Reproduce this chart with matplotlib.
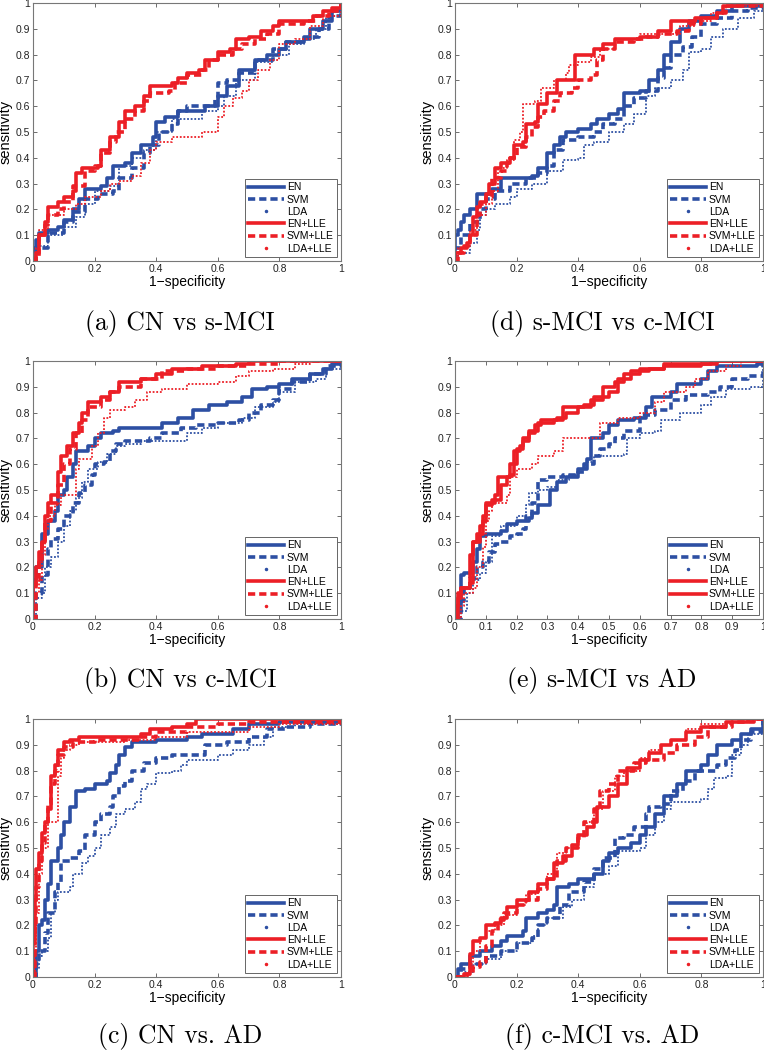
import matplotlib
matplotlib.use("Agg")
import matplotlib.pyplot as plt
from matplotlib.lines import Line2D
from matplotlib.ticker import FormatStrFormatter

BLUE = "#2d4fa3"
RED = "#ec1f26"

LABELS = ["EN", "SVM", "LDA", "EN+LLE", "SVM+LLE", "LDA+LLE"]

# ── (a) CN vs s-MCI ─────────────────────────────────────────────────────────
A_EN = [(0, 0), (0, 0.05), (0.01, 0.08), (0.02, 0.11), (0.05, 0.12), (0.08, 0.13), (0.1, 0.16),
        (0.13, 0.2), (0.15, 0.24), (0.17, 0.28), (0.22, 0.29), (0.24, 0.32), (0.26, 0.37),
        (0.3, 0.38), (0.32, 0.42), (0.35, 0.45), (0.39, 0.48), (0.4, 0.54), (0.43, 0.56),
        (0.47, 0.58), (0.55, 0.58), (0.56, 0.6), (0.6, 0.64), (0.63, 0.68), (0.67, 0.74),
        (0.72, 0.78), (0.76, 0.8), (0.8, 0.82), (0.82, 0.85), (0.88, 0.86), (0.9, 0.9),
        (0.94, 0.93), (0.97, 0.97), (1, 1)]
A_SVM = [(0, 0), (0.01, 0.05), (0.05, 0.11), (0.1, 0.15), (0.13, 0.19), (0.17, 0.24), (0.21, 0.26),
         (0.26, 0.27), (0.28, 0.32), (0.32, 0.36), (0.36, 0.42), (0.38, 0.45), (0.41, 0.5),
         (0.45, 0.53), (0.47, 0.58), (0.5, 0.6), (0.55, 0.6), (0.59, 0.63), (0.6, 0.69),
         (0.63, 0.7), (0.67, 0.73), (0.72, 0.78), (0.78, 0.82), (0.82, 0.85), (0.88, 0.87),
         (0.93, 0.9), (0.96, 0.95), (1, 1)]
A_LDA = [(0, 0), (0.01, 0.06), (0.05, 0.1), (0.1, 0.13), (0.14, 0.17), (0.17, 0.22), (0.2, 0.27),
         (0.25, 0.29), (0.28, 0.37), (0.32, 0.4), (0.36, 0.43), (0.4, 0.5), (0.45, 0.55),
         (0.55, 0.58), (0.6, 0.6), (0.62, 0.64), (0.66, 0.7), (0.72, 0.77), (0.78, 0.8),
         (0.83, 0.84), (0.88, 0.86), (0.92, 0.9), (0.95, 0.95), (1, 1)]
A_EN_LLE = [(0, 0), (0.01, 0.03), (0.02, 0.1), (0.04, 0.15), (0.05, 0.21), (0.08, 0.23), (0.1, 0.25),
            (0.13, 0.27), (0.14, 0.34), (0.16, 0.36), (0.21, 0.37), (0.22, 0.43), (0.25, 0.48),
            (0.28, 0.54), (0.3, 0.58), (0.33, 0.6), (0.36, 0.64), (0.38, 0.68), (0.45, 0.69),
            (0.47, 0.71), (0.5, 0.73), (0.54, 0.74), (0.56, 0.78), (0.6, 0.81), (0.64, 0.82),
            (0.66, 0.86), (0.7, 0.87), (0.74, 0.89), (0.78, 0.91), (0.8, 0.93), (0.88, 0.93),
            (0.91, 0.95), (0.94, 0.97), (0.97, 0.98), (1, 1)]
A_SVM_LLE = [(0, 0), (0.01, 0.02), (0.02, 0.1), (0.04, 0.14), (0.05, 0.18), (0.08, 0.2), (0.1, 0.23),
             (0.13, 0.29), (0.17, 0.35), (0.2, 0.37), (0.22, 0.42), (0.25, 0.46), (0.27, 0.5),
             (0.3, 0.55), (0.33, 0.58), (0.36, 0.62), (0.38, 0.65), (0.44, 0.66), (0.46, 0.69),
             (0.5, 0.72), (0.55, 0.74), (0.57, 0.78), (0.6, 0.8), (0.65, 0.82), (0.68, 0.84),
             (0.72, 0.86), (0.76, 0.88), (0.8, 0.92), (0.88, 0.93), (0.92, 0.95), (0.96, 0.97), (1, 1)]
A_LDA_LLE = [(0, 0), (0.01, 0.05), (0.02, 0.12), (0.05, 0.18), (0.1, 0.2), (0.14, 0.22), (0.17, 0.25),
             (0.22, 0.27), (0.25, 0.3), (0.28, 0.31), (0.32, 0.33), (0.35, 0.38), (0.38, 0.43),
             (0.4, 0.46), (0.45, 0.48), (0.53, 0.48), (0.55, 0.5), (0.6, 0.52), (0.6, 0.56),
             (0.62, 0.6), (0.65, 0.63), (0.68, 0.66), (0.7, 0.7), (0.73, 0.74), (0.77, 0.78),
             (0.8, 0.84), (0.85, 0.86), (0.9, 0.91), (0.94, 0.95), (1, 1)]

# ── (d) s-MCI vs c-MCI ──────────────────────────────────────────────────────
D_EN = [(0, 0), (0, 0.1), (0.01, 0.12), (0.02, 0.15), (0.03, 0.18), (0.05, 0.2), (0.07, 0.26),
        (0.1, 0.26), (0.12, 0.28), (0.15, 0.32), (0.25, 0.33), (0.27, 0.36), (0.3, 0.42),
        (0.32, 0.45), (0.34, 0.48), (0.36, 0.5), (0.4, 0.51), (0.44, 0.53), (0.46, 0.55),
        (0.5, 0.57), (0.53, 0.59), (0.55, 0.65), (0.6, 0.66), (0.63, 0.7), (0.66, 0.74),
        (0.68, 0.8), (0.7, 0.85), (0.73, 0.9), (0.76, 0.93), (0.8, 0.95), (0.85, 0.97),
        (0.9, 0.99), (1, 1)]
D_SVM = [(0, 0), (0, 0.05), (0.02, 0.1), (0.05, 0.15), (0.08, 0.2), (0.1, 0.24), (0.13, 0.27),
         (0.18, 0.3), (0.23, 0.32), (0.27, 0.34), (0.3, 0.37), (0.32, 0.43), (0.35, 0.47),
         (0.4, 0.48), (0.45, 0.5), (0.48, 0.53), (0.52, 0.55), (0.55, 0.6), (0.58, 0.63),
         (0.62, 0.66), (0.66, 0.71), (0.68, 0.75), (0.7, 0.8), (0.74, 0.83), (0.77, 0.87),
         (0.8, 0.92), (0.85, 0.94), (0.9, 0.97), (0.95, 0.98), (1, 1)]
D_LDA = [(0, 0), (0.01, 0.03), (0.05, 0.07), (0.07, 0.12), (0.08, 0.18), (0.1, 0.2), (0.13, 0.22),
         (0.18, 0.25), (0.2, 0.28), (0.25, 0.3), (0.3, 0.35), (0.35, 0.39), (0.4, 0.4),
         (0.42, 0.45), (0.45, 0.46), (0.5, 0.5), (0.55, 0.53), (0.58, 0.57), (0.62, 0.64),
         (0.65, 0.67), (0.7, 0.7), (0.74, 0.74), (0.76, 0.81), (0.8, 0.82), (0.83, 0.87),
         (0.87, 0.9), (0.92, 0.94), (0.97, 0.97), (1, 1)]
D_EN_LLE = [(0, 0), (0, 0.03), (0.02, 0.05), (0.04, 0.07), (0.05, 0.1), (0.06, 0.17), (0.07, 0.21),
            (0.08, 0.23), (0.1, 0.26), (0.11, 0.3), (0.13, 0.36), (0.15, 0.38), (0.18, 0.4),
            (0.19, 0.45), (0.22, 0.46), (0.23, 0.53), (0.26, 0.54), (0.27, 0.61), (0.3, 0.61),
            (0.3, 0.65), (0.33, 0.7), (0.38, 0.7), (0.39, 0.8), (0.45, 0.82), (0.48, 0.84),
            (0.52, 0.86), (0.6, 0.87), (0.66, 0.89), (0.7, 0.93), (0.78, 0.94), (0.85, 0.96),
            (0.87, 0.99), (0.92, 1.0), (1, 1)]
D_SVM_LLE = [(0, 0), (0.01, 0.03), (0.03, 0.06), (0.05, 0.1), (0.07, 0.18), (0.08, 0.22), (0.1, 0.25),
             (0.12, 0.32), (0.15, 0.35), (0.17, 0.38), (0.18, 0.4), (0.2, 0.44), (0.23, 0.48),
             (0.25, 0.52), (0.27, 0.56), (0.29, 0.58), (0.32, 0.62), (0.34, 0.65), (0.38, 0.67),
             (0.4, 0.7), (0.44, 0.72), (0.46, 0.78), (0.48, 0.82), (0.52, 0.85), (0.58, 0.86),
             (0.62, 0.87), (0.66, 0.88), (0.72, 0.89), (0.76, 0.92), (0.8, 0.94), (0.85, 0.96),
             (0.88, 0.99), (1, 1)]
D_LDA_LLE = [(0, 0), (0.01, 0.05), (0.03, 0.06), (0.05, 0.12), (0.07, 0.18), (0.1, 0.22), (0.12, 0.27),
             (0.14, 0.36), (0.17, 0.39), (0.19, 0.47), (0.21, 0.5), (0.22, 0.61), (0.26, 0.62),
             (0.28, 0.67), (0.32, 0.7), (0.36, 0.73), (0.37, 0.76), (0.4, 0.77), (0.44, 0.79),
             (0.47, 0.82), (0.52, 0.86), (0.6, 0.88), (0.7, 0.88), (0.73, 0.91), (0.78, 0.93),
             (0.83, 0.96), (0.88, 0.99), (1, 1)]

# ── (b) CN vs c-MCI ─────────────────────────────────────────────────────────
B_EN = [(0, 0), (0, 0.15), (0.01, 0.2), (0.03, 0.25), (0.03, 0.33), (0.05, 0.38), (0.07, 0.42),
        (0.08, 0.48), (0.1, 0.5), (0.11, 0.55), (0.13, 0.6), (0.14, 0.65), (0.18, 0.67),
        (0.2, 0.7), (0.22, 0.72), (0.26, 0.73), (0.28, 0.74), (0.4, 0.74), (0.42, 0.76),
        (0.47, 0.78), (0.52, 0.81), (0.57, 0.83), (0.63, 0.84), (0.68, 0.86), (0.71, 0.89),
        (0.76, 0.9), (0.8, 0.91), (0.84, 0.93), (0.9, 0.95), (0.94, 0.97), (0.97, 0.99), (1, 1)]
B_SVM = [(0, 0), (0.01, 0.1), (0.03, 0.17), (0.05, 0.27), (0.06, 0.31), (0.08, 0.35), (0.1, 0.4),
         (0.13, 0.45), (0.15, 0.49), (0.17, 0.52), (0.19, 0.56), (0.2, 0.6), (0.23, 0.61),
         (0.25, 0.65), (0.27, 0.68), (0.3, 0.69), (0.38, 0.7), (0.42, 0.72), (0.48, 0.74),
         (0.53, 0.75), (0.6, 0.76), (0.67, 0.77), (0.7, 0.8), (0.74, 0.83), (0.78, 0.85),
         (0.8, 0.89), (0.84, 0.92), (0.9, 0.95), (0.95, 0.98), (1, 1)]
B_LDA = [(0, 0), (0.01, 0.08), (0.03, 0.1), (0.04, 0.2), (0.06, 0.24), (0.08, 0.3), (0.1, 0.36),
         (0.12, 0.42), (0.14, 0.47), (0.16, 0.53), (0.18, 0.58), (0.21, 0.61), (0.24, 0.64),
         (0.27, 0.67), (0.3, 0.68), (0.35, 0.69), (0.45, 0.69), (0.5, 0.72), (0.55, 0.74),
         (0.6, 0.76), (0.65, 0.76), (0.68, 0.78), (0.72, 0.82), (0.78, 0.84), (0.8, 0.88),
         (0.85, 0.92), (0.92, 0.93), (0.95, 0.97), (1, 1)]
B_EN_LLE = [(0, 0), (0, 0.13), (0.01, 0.2), (0.02, 0.26), (0.03, 0.3), (0.04, 0.4), (0.05, 0.45),
            (0.06, 0.48), (0.08, 0.5), (0.08, 0.57), (0.09, 0.63), (0.11, 0.67), (0.13, 0.72),
            (0.15, 0.76), (0.16, 0.8), (0.18, 0.84), (0.22, 0.86), (0.25, 0.88), (0.28, 0.92),
            (0.35, 0.93), (0.4, 0.95), (0.45, 0.97), (0.55, 0.98), (0.66, 0.99), (0.7, 1.0), (1, 1)]
B_SVM_LLE = [(0, 0), (0.01, 0.15), (0.02, 0.22), (0.03, 0.3), (0.04, 0.38), (0.06, 0.45), (0.08, 0.52),
             (0.1, 0.6), (0.12, 0.66), (0.14, 0.72), (0.16, 0.77), (0.18, 0.82), (0.22, 0.85),
             (0.25, 0.88), (0.28, 0.9), (0.35, 0.93), (0.42, 0.96), (0.5, 0.97), (0.6, 0.98),
             (0.7, 0.99), (0.8, 1.0), (1, 1)]
B_LDA_LLE = [(0, 0), (0, 0.1), (0.02, 0.15), (0.03, 0.25), (0.04, 0.35), (0.05, 0.4), (0.07, 0.44),
             (0.09, 0.48), (0.13, 0.48), (0.14, 0.58), (0.15, 0.62), (0.18, 0.62), (0.19, 0.67),
             (0.21, 0.72), (0.23, 0.78), (0.25, 0.81), (0.3, 0.82), (0.33, 0.85), (0.37, 0.88),
             (0.42, 0.89), (0.5, 0.91), (0.6, 0.92), (0.66, 0.94), (0.7, 0.96), (0.78, 0.97),
             (0.85, 0.99), (0.9, 1.0), (1, 1)]

# ── (e) s-MCI vs AD ─────────────────────────────────────────────────────────
E_EN = [(0, 0), (0.01, 0.05), (0.02, 0.13), (0.02, 0.17), (0.03, 0.18), (0.05, 0.18), (0.06, 0.22),
        (0.07, 0.27), (0.08, 0.32), (0.1, 0.33), (0.15, 0.34), (0.17, 0.37), (0.2, 0.38),
        (0.24, 0.39), (0.25, 0.41), (0.27, 0.44), (0.3, 0.44), (0.31, 0.5), (0.33, 0.53),
        (0.36, 0.55), (0.4, 0.58), (0.43, 0.62), (0.44, 0.7), (0.48, 0.72), (0.5, 0.75),
        (0.53, 0.77), (0.58, 0.78), (0.62, 0.82), (0.64, 0.86), (0.7, 0.88), (0.72, 0.91),
        (0.8, 0.93), (0.82, 0.96), (0.85, 0.98), (0.98, 0.99), (1, 1)]
E_SVM = [(0, 0), (0.02, 0.07), (0.03, 0.12), (0.05, 0.16), (0.07, 0.2), (0.09, 0.22), (0.11, 0.26),
         (0.13, 0.29), (0.15, 0.3), (0.18, 0.32), (0.2, 0.33), (0.22, 0.35), (0.23, 0.4),
         (0.25, 0.45), (0.27, 0.54), (0.3, 0.55), (0.35, 0.56), (0.4, 0.57), (0.42, 0.6),
         (0.45, 0.63), (0.47, 0.66), (0.5, 0.68), (0.52, 0.7), (0.55, 0.73), (0.6, 0.79),
         (0.65, 0.81), (0.7, 0.85), (0.75, 0.87), (0.82, 0.88), (0.86, 0.9), (0.9, 0.93),
         (0.95, 0.94), (1, 1)]
E_LDA = [(0, 0), (0.02, 0.03), (0.04, 0.1), (0.06, 0.15), (0.08, 0.18), (0.1, 0.22), (0.12, 0.32),
         (0.15, 0.36), (0.2, 0.4), (0.23, 0.44), (0.24, 0.49), (0.27, 0.5), (0.3, 0.51),
         (0.33, 0.54), (0.37, 0.56), (0.4, 0.58), (0.43, 0.61), (0.45, 0.63), (0.55, 0.64),
         (0.56, 0.7), (0.6, 0.72), (0.65, 0.73), (0.67, 0.77), (0.73, 0.8), (0.8, 0.83),
         (0.83, 0.86), (0.88, 0.89), (0.96, 0.9), (1, 1)]
E_EN_LLE = [(0, 0), (0, 0.05), (0.01, 0.1), (0.02, 0.12), (0.05, 0.13), (0.05, 0.25), (0.06, 0.3),
            (0.08, 0.36), (0.09, 0.4), (0.1, 0.45), (0.13, 0.48), (0.14, 0.55), (0.18, 0.56),
            (0.19, 0.65), (0.21, 0.67), (0.22, 0.7), (0.24, 0.73), (0.27, 0.76), (0.32, 0.77),
            (0.35, 0.82), (0.42, 0.83), (0.45, 0.86), (0.5, 0.88), (0.53, 0.93), (0.57, 0.96),
            (0.63, 0.97), (0.68, 0.99), (0.83, 1.0), (1, 1)]
E_SVM_LLE = [(0, 0), (0.01, 0.08), (0.02, 0.12), (0.05, 0.14), (0.06, 0.3), (0.07, 0.33), (0.09, 0.38),
             (0.1, 0.44), (0.12, 0.46), (0.15, 0.52), (0.17, 0.55), (0.18, 0.6), (0.2, 0.66),
             (0.22, 0.69), (0.24, 0.72), (0.26, 0.75), (0.28, 0.77), (0.33, 0.78), (0.36, 0.8),
             (0.4, 0.82), (0.44, 0.85), (0.48, 0.9), (0.52, 0.92), (0.55, 0.95), (0.6, 0.97),
             (0.68, 0.98), (0.8, 0.99), (0.85, 1.0), (1, 1)]
E_LDA_LLE = [(0, 0), (0.02, 0.05), (0.03, 0.1), (0.06, 0.12), (0.07, 0.2), (0.09, 0.28), (0.1, 0.38),
             (0.11, 0.42), (0.12, 0.45), (0.17, 0.48), (0.18, 0.55), (0.2, 0.58), (0.24, 0.58),
             (0.25, 0.6), (0.27, 0.63), (0.32, 0.65), (0.35, 0.7), (0.45, 0.7), (0.47, 0.76),
             (0.53, 0.78), (0.6, 0.8), (0.65, 0.84), (0.68, 0.88), (0.75, 0.9), (0.78, 0.93),
             (0.82, 0.96), (0.88, 0.98), (0.93, 1.0), (1, 1)]

# ── (c) CN vs. AD ───────────────────────────────────────────────────────────
C_EN = [(0, 0), (0.01, 0.1), (0.02, 0.2), (0.03, 0.22), (0.04, 0.3), (0.05, 0.36), (0.06, 0.45),
        (0.08, 0.5), (0.09, 0.55), (0.1, 0.6), (0.12, 0.66), (0.14, 0.72), (0.17, 0.73),
        (0.2, 0.75), (0.24, 0.76), (0.25, 0.79), (0.27, 0.82), (0.28, 0.86), (0.3, 0.89),
        (0.32, 0.91), (0.4, 0.92), (0.5, 0.93), (0.55, 0.94), (0.65, 0.96), (0.7, 0.98),
        (0.8, 0.99), (1, 1)]
C_SVM = [(0, 0), (0.01, 0.05), (0.02, 0.1), (0.04, 0.17), (0.05, 0.25), (0.07, 0.33), (0.08, 0.37),
         (0.09, 0.45), (0.12, 0.46), (0.15, 0.49), (0.17, 0.55), (0.2, 0.6), (0.22, 0.63),
         (0.25, 0.66), (0.26, 0.7), (0.28, 0.74), (0.3, 0.76), (0.32, 0.8), (0.36, 0.83),
         (0.4, 0.85), (0.45, 0.86), (0.55, 0.86), (0.56, 0.9), (0.63, 0.91), (0.7, 0.93),
         (0.76, 0.96), (0.82, 0.97), (0.9, 0.98), (1, 1)]
C_LDA = [(0, 0), (0.01, 0.03), (0.02, 0.08), (0.03, 0.1), (0.05, 0.15), (0.06, 0.25), (0.07, 0.3),
         (0.08, 0.33), (0.12, 0.35), (0.13, 0.4), (0.16, 0.44), (0.18, 0.47), (0.2, 0.5),
         (0.22, 0.55), (0.25, 0.58), (0.27, 0.63), (0.3, 0.65), (0.33, 0.68), (0.35, 0.73),
         (0.37, 0.75), (0.4, 0.79), (0.45, 0.8), (0.48, 0.82), (0.5, 0.84), (0.6, 0.86),
         (0.65, 0.88), (0.7, 0.9), (0.75, 0.93), (0.78, 0.97), (0.85, 0.98), (1, 1)]
C_EN_LLE = [(0, 0), (0, 0.15), (0.005, 0.3), (0.01, 0.42), (0.02, 0.48), (0.03, 0.56), (0.04, 0.6),
            (0.05, 0.65), (0.06, 0.7), (0.06, 0.78), (0.07, 0.82), (0.08, 0.88), (0.1, 0.91),
            (0.12, 0.92), (0.15, 0.93), (0.3, 0.93), (0.35, 0.94), (0.38, 0.96), (0.45, 0.97),
            (0.5, 0.98), (0.53, 1.0), (1, 1)]
C_SVM_LLE = [(0, 0), (0.005, 0.2), (0.01, 0.35), (0.02, 0.45), (0.03, 0.52), (0.04, 0.6), (0.05, 0.67),
             (0.06, 0.75), (0.07, 0.8), (0.08, 0.86), (0.1, 0.89), (0.13, 0.91), (0.2, 0.92),
             (0.3, 0.92), (0.35, 0.93), (0.4, 0.95), (0.5, 0.97), (0.6, 0.98), (0.7, 0.99), (1, 1)]
C_LDA_LLE = [(0, 0), (0.005, 0.1), (0.01, 0.25), (0.02, 0.4), (0.03, 0.5), (0.05, 0.55), (0.05, 0.6),
             (0.07, 0.6), (0.08, 0.7), (0.08, 0.78), (0.09, 0.85), (0.1, 0.88), (0.12, 0.9),
             (0.15, 0.91), (0.3, 0.92), (0.4, 0.93), (0.5, 0.95), (0.6, 0.95), (0.7, 0.97),
             (0.8, 0.98), (1, 1)]

# ── (f) c-MCI vs. AD ────────────────────────────────────────────────────────
F_EN = [(0, 0), (0.01, 0.03), (0.02, 0.05), (0.04, 0.05), (0.05, 0.08), (0.08, 0.1), (0.12, 0.12),
        (0.15, 0.14), (0.17, 0.16), (0.22, 0.18), (0.23, 0.23), (0.27, 0.25), (0.3, 0.26),
        (0.32, 0.28), (0.33, 0.35), (0.37, 0.36), (0.4, 0.38), (0.45, 0.4), (0.48, 0.45),
        (0.5, 0.48), (0.53, 0.5), (0.57, 0.52), (0.6, 0.55), (0.62, 0.58), (0.65, 0.63),
        (0.68, 0.7), (0.72, 0.75), (0.75, 0.8), (0.8, 0.82), (0.82, 0.86), (0.85, 0.9),
        (0.9, 0.92), (0.93, 0.94), (0.96, 0.96), (1, 1)]
F_SVM = [(0, 0), (0.02, 0.03), (0.05, 0.05), (0.1, 0.08), (0.15, 0.1), (0.2, 0.13), (0.25, 0.15),
         (0.27, 0.2), (0.3, 0.23), (0.34, 0.28), (0.37, 0.33), (0.42, 0.37), (0.45, 0.42),
         (0.48, 0.46), (0.52, 0.54), (0.55, 0.55), (0.58, 0.58), (0.62, 0.63), (0.63, 0.66),
         (0.67, 0.67), (0.7, 0.72), (0.74, 0.76), (0.78, 0.8), (0.85, 0.82), (0.88, 0.85),
         (0.91, 0.88), (0.93, 0.92), (0.96, 0.95), (1, 1)]
F_LDA = [(0, 0), (0.03, 0.02), (0.06, 0.05), (0.1, 0.07), (0.15, 0.1), (0.2, 0.13), (0.25, 0.16),
         (0.27, 0.2), (0.3, 0.23), (0.35, 0.27), (0.38, 0.3), (0.42, 0.35), (0.45, 0.4),
         (0.5, 0.43), (0.53, 0.49), (0.6, 0.5), (0.62, 0.55), (0.65, 0.6), (0.68, 0.65),
         (0.7, 0.68), (0.8, 0.69), (0.82, 0.73), (0.84, 0.77), (0.88, 0.78), (0.9, 0.86),
         (0.93, 0.9), (0.95, 0.94), (1, 1)]
F_EN_LLE = [(0, 0), (0.03, 0.01), (0.05, 0.05), (0.05, 0.09), (0.06, 0.14), (0.08, 0.15), (0.1, 0.2),
            (0.13, 0.21), (0.15, 0.23), (0.17, 0.27), (0.2, 0.3), (0.24, 0.33), (0.27, 0.36),
            (0.3, 0.38), (0.32, 0.44), (0.35, 0.47), (0.38, 0.51), (0.4, 0.55), (0.43, 0.58),
            (0.45, 0.6), (0.46, 0.66), (0.5, 0.7), (0.53, 0.75), (0.56, 0.81), (0.6, 0.84),
            (0.63, 0.87), (0.67, 0.9), (0.7, 0.92), (0.75, 0.95), (0.8, 0.97), (0.88, 0.99),
            (0.95, 1.0), (1, 1)]
F_SVM_LLE = [(0, 0), (0.04, 0.01), (0.06, 0.04), (0.08, 0.06), (0.1, 0.12), (0.12, 0.18), (0.14, 0.22),
             (0.16, 0.25), (0.2, 0.28), (0.23, 0.3), (0.27, 0.34), (0.3, 0.38), (0.33, 0.45),
             (0.36, 0.5), (0.4, 0.54), (0.42, 0.6), (0.45, 0.65), (0.47, 0.72), (0.5, 0.75),
             (0.53, 0.8), (0.58, 0.83), (0.62, 0.84), (0.68, 0.87), (0.72, 0.9), (0.78, 0.93),
             (0.82, 0.97), (0.9, 0.99), (0.97, 1.0), (1, 1)]
F_LDA_LLE = [(0, 0), (0.03, 0.01), (0.05, 0.05), (0.06, 0.1), (0.08, 0.15), (0.1, 0.18), (0.13, 0.2),
             (0.16, 0.24), (0.2, 0.28), (0.23, 0.32), (0.27, 0.36), (0.3, 0.4), (0.33, 0.48),
             (0.36, 0.5), (0.4, 0.55), (0.43, 0.6), (0.45, 0.65), (0.48, 0.72), (0.52, 0.78),
             (0.55, 0.8), (0.6, 0.85), (0.63, 0.88), (0.67, 0.9), (0.7, 0.92), (0.75, 0.96),
             (0.8, 0.98), (0.9, 1.0), (1, 1)]

CAPTIONS = ["(a) CN vs s-MCI", "(d) s-MCI vs c-MCI", "(b) CN vs c-MCI",
            "(e) s-MCI vs AD", "(c) CN vs. AD", "(f) c-MCI vs. AD"]
CURVES = [
    [A_EN, A_SVM, A_LDA, A_EN_LLE, A_SVM_LLE, A_LDA_LLE],
    [D_EN, D_SVM, D_LDA, D_EN_LLE, D_SVM_LLE, D_LDA_LLE],
    [B_EN, B_SVM, B_LDA, B_EN_LLE, B_SVM_LLE, B_LDA_LLE],
    [E_EN, E_SVM, E_LDA, E_EN_LLE, E_SVM_LLE, E_LDA_LLE],
    [C_EN, C_SVM, C_LDA, C_EN_LLE, C_SVM_LLE, C_LDA_LLE],
    [F_EN, F_SVM, F_LDA, F_EN_LLE, F_SVM_LLE, F_LDA_LLE],
]
XSTEP = [0.2, 0.2, 0.2, 0.1, 0.2, 0.2]

DASH = (0, (2.0, 1.1))
DOT = (0, (1, 1))


def styles(panel):
    # (e) draws SVM+LLE solid, everything else follows the usual pattern
    svm_lle = "-" if panel == 3 else DASH
    return [(BLUE, "-", 2.6), (BLUE, DASH, 2.6), (BLUE, DOT, 1.3),
            (RED, "-", 2.6), (RED, svm_lle, 2.6), (RED, DOT, 1.3)]


def legend_handles(sty):
    hs = []
    for (c, ls, lw), lab in zip(sty, LABELS):
        if ls == DOT:
            hs.append(Line2D([0], [0], color=c, lw=0, marker=".", ms=3, label=lab))
        else:
            hs.append(Line2D([0], [0], color=c, ls=ls, lw=lw, label=lab))
    return hs


plt.rcParams["font.family"] = ["Liberation Sans", "DejaVu Sans"]
fig = plt.figure(figsize=(7.64, 10.5), dpi=100)

LEFTS = [33 / 764, 455 / 764]
BOTTOMS = [1 - 261 / 1050, 1 - 619 / 1050, 1 - 977 / 1050]
W, H = 308 / 764, 258 / 1050
CAP_Y = [1 - 323 / 1050, 1 - 681 / 1050, 1 - 1037 / 1050]
CAP_X = [180 / 764, 602 / 764]

for i in range(6):
    row, col = i // 2, i % 2
    ax = fig.add_axes([LEFTS[col], BOTTOMS[row], W, H])
    sty = styles(i)
    for pts, (c, ls, lw) in zip(CURVES[i], sty):
        xs = [p[0] for p in pts]
        ys = [p[1] for p in pts]
        ax.step(xs, ys, where="post", color=c, ls=ls, lw=lw)
    ax.set_xlim(0, 1)
    ax.set_ylim(0, 1)
    n = int(round(1 / XSTEP[i]))
    ax.set_xticks([k * XSTEP[i] for k in range(n + 1)])
    ax.set_yticks([k * 0.1 for k in range(11)])
    ax.xaxis.set_major_formatter(FormatStrFormatter("%g"))
    ax.yaxis.set_major_formatter(FormatStrFormatter("%g"))
    ax.tick_params(direction="in", length=3, width=0.6, color="#555555",
                   labelsize=7.5, top=True, right=True, pad=2, labelcolor="#222222")
    for s in ax.spines.values():
        s.set_color("#777777")
        s.set_linewidth(0.8)
    ax.set_xlabel("1\u2212specificity", fontsize=10, labelpad=1)
    ax.set_ylabel("sensitivity", fontsize=10.5, labelpad=2)
    leg = ax.legend(handles=legend_handles(sty), loc="lower right", fontsize=7.5,
                    handlelength=3.4, handletextpad=0.3, labelspacing=0.22,
                    borderpad=0.35, borderaxespad=0.35, fancybox=False, framealpha=1)
    leg.get_frame().set_edgecolor("#666666")
    leg.get_frame().set_linewidth(0.7)
    fig.text(CAP_X[col], CAP_Y[row], CAPTIONS[i], ha="center", va="center",
             fontsize=18.5, family="cmr10")

fig.savefig("out.png", dpi=100)
